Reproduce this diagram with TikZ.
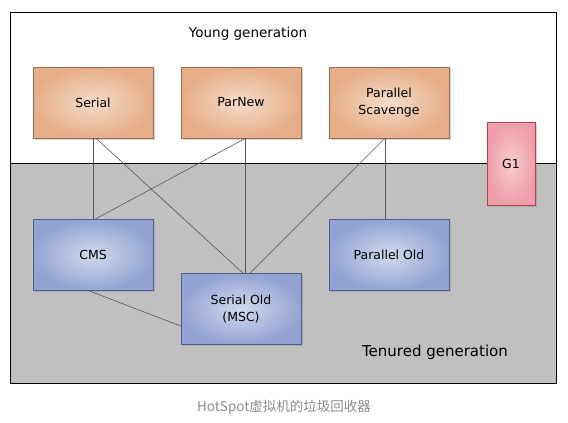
\documentclass[tikz,border=0pt]{standalone}
\usepackage{fontspec}
\setmainfont{DejaVu Sans}
\newfontfamily\cjkfont{Noto Sans CJK SC}
\usetikzlibrary{shadows}

\definecolor{younginner}{HTML}{F5DCCA}
\definecolor{youngouter}{HTML}{E6AE88}
\definecolor{youngline}{HTML}{9A6B4C}
\definecolor{tenuredinner}{HTML}{D2D9EE}
\definecolor{tenuredouter}{HTML}{93A4D3}
\definecolor{tenuredline}{HTML}{50608F}
\definecolor{gonein}{HTML}{F8CCD0}
\definecolor{goneout}{HTML}{EE9EA8}
\definecolor{goneline}{HTML}{B8404E}
\definecolor{oldspace}{HTML}{C0C0C0}

\tikzset{
  gcbox/.style={rectangle, minimum width=120pt, minimum height=71pt, align=center,
    font=\fontsize{12.5}{17}\selectfont, line width=0.6pt,
    drop shadow={shadow xshift=1.5pt, shadow yshift=-1.5pt, opacity=0.35}},
  youngbox/.style={gcbox, draw=youngline, inner color=younginner, outer color=youngouter},
  oldbox/.style={gcbox, draw=tenuredline, inner color=tenuredinner, outer color=tenuredouter},
  wire/.style={draw=black!65, line width=0.6pt},
}

\begin{document}
\begin{tikzpicture}[x=1pt,y=-1pt]
\useasboundingbox (0,0) rectangle (568,423);
% the two generations
\fill[oldspace] (10,163) rectangle (556,383);
\draw[line width=0.8pt] (10,12) rectangle (556,383);
\draw[line width=0.8pt] (10,163) -- (556,163);

\node (younglabel) at (248,34) {\fontsize{13.5}{16}\selectfont Young generation};
\node (tenuredlabel) at (435,352) {\fontsize{15}{18}\selectfont Tenured generation};

% young collectors
\node[youngbox] (serial) at (93,102.5) {Serial};
\node[youngbox] (parnew) at (241,102.5) {ParNew};
\node[youngbox] (pscav) at (389,102.5) {Parallel\\Scavenge};

% tenured collectors
\node[oldbox] (cms) at (93,255) {CMS};
\node[oldbox] (serialold) at (241,309) {Serial Old\\(MSC)};
\node[oldbox] (parold) at (389,255) {Parallel Old};

% G1 spans both
\node[gcbox, minimum width=48pt, minimum height=83pt, draw=goneline,
      inner color=gonein, outer color=goneout] (gone) at (511,163.5) {G1};

% which pairs work together
\draw[wire] (serial.south) -- (cms.north);
\draw[wire] ([xshift=3pt]serial.south) -- ([xshift=2pt]serialold.north);
\draw[wire] ([xshift=4.5pt]parnew.south) -- ([xshift=2pt]cms.north);
\draw[wire] ([xshift=4.5pt]parnew.south) -- ([xshift=4.5pt]serialold.north);
\draw[wire] ([xshift=-4pt]pscav.south) -- ([xshift=9pt]serialold.north);
\draw[wire] ([xshift=-4pt]pscav.south) -- ([xshift=-4pt]parold.north);
\draw[wire] ([xshift=-4pt]cms.south) -- ([yshift=-17pt]serialold.west);

\node[text=black!45] (caption) at (284,407) {\cjkfont\fontsize{13.5}{16}\selectfont HotSpot虚拟机的垃圾回收器};
\end{tikzpicture}
\end{document}
